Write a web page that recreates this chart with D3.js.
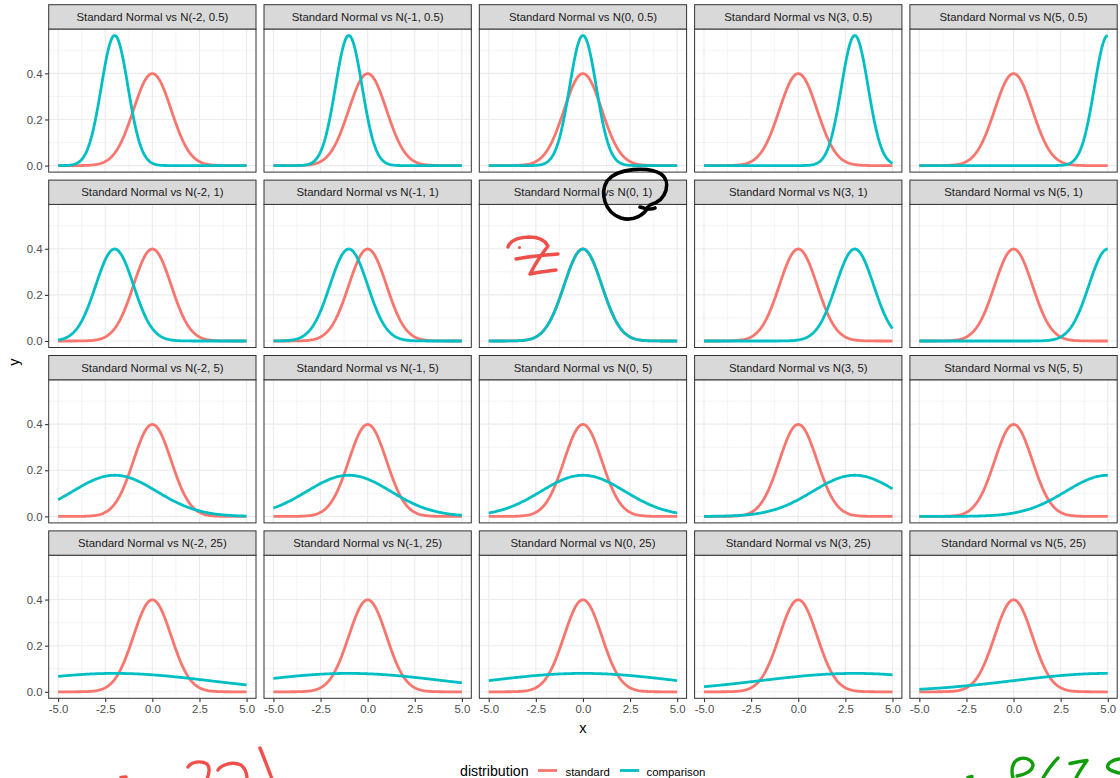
<!DOCTYPE html>
<html>
<head>
<meta charset="utf-8">
<script src="https://cdn.jsdelivr.net/npm/d3@7"></script>
<style>
  body { margin: 0; background: #fff; }
  svg { display: block; font-family: "Liberation Sans", Arial, sans-serif; }
</style>
</head>
<body>
<svg id="chart" width="1120" height="778"></svg>
<script>
// facet parameters
let means = [-2, -1, 0, 3, 5];
let variances = [0.5, 1, 5, 25];
let seriesNames = ["standard", "comparison"];
let seriesColors = ["#F8766D", "#00BFC4"];
let xTicks = [-5, -2.5, 0, 2.5, 5];
let xMinor = [-3.75, -1.25, 1.25, 3.75];
let yTicks = [0, 0.2, 0.4];
let yMinor = [0.1, 0.3, 0.5];
let xGrid = d3.range(-5, 5.0001, 0.05);

// curves are density plots: dnorm(x, mean, sqrt(var))
let dnorm = (x, m, v) => Math.exp(-((x - m) * (x - m)) / (2 * v)) / Math.sqrt(2 * Math.PI * v);
// R style labels, plain hyphen for the minus sign
let fmt = d => d.toFixed(1);

let svg = d3.select("#chart");

let plotLeft = 48.7, plotTop = 4.7, panelW = 207.3, gapX = 8, stripH = 24.3, panelH = 143.1, gapY = 8;
let yMax = d3.max(variances.map(v => dnorm(0, 0, v)));
let yPad = yMax * 0.05;

let line = d3.line();

variances.forEach((v, r) => {
    means.forEach((m, c) => {
        let px = plotLeft + c * (panelW + gapX);
        let sy = plotTop + r * (stripH + panelH + gapY);
        let py = sy + stripH;

        let x = d3.scaleLinear().domain([-5.5, 5.5]).range([px, px + panelW]);
        let y = d3.scaleLinear().domain([-yPad, yMax + yPad]).range([py + panelH, py]);

        let g = svg.append("g");

        // grid
        g.selectAll(".xminor").data(xMinor).join("line")
            .attr("x1", d => x(d)).attr("x2", d => x(d))
            .attr("y1", py).attr("y2", py + panelH)
            .attr("stroke", "#EBEBEB").attr("stroke-width", 0.55);
        g.selectAll(".yminor").data(yMinor).join("line")
            .attr("x1", px).attr("x2", px + panelW)
            .attr("y1", d => y(d)).attr("y2", d => y(d))
            .attr("stroke", "#EBEBEB").attr("stroke-width", 0.55);
        g.selectAll(".xmajor").data(xTicks).join("line")
            .attr("x1", d => x(d)).attr("x2", d => x(d))
            .attr("y1", py).attr("y2", py + panelH)
            .attr("stroke", "#EBEBEB").attr("stroke-width", 1.1);
        g.selectAll(".ymajor").data(yTicks).join("line")
            .attr("x1", px).attr("x2", px + panelW)
            .attr("y1", d => y(d)).attr("y2", d => y(d))
            .attr("stroke", "#EBEBEB").attr("stroke-width", 1.1);

        // curves: standard first, comparison on top
        let params = [[0, 1], [m, v]];
        params.forEach((p, i) => {
            g.append("path")
                .attr("d", line(xGrid.map(t => [x(t), y(dnorm(t, p[0], p[1]))])))
                .attr("fill", "none")
                .attr("stroke", seriesColors[i])
                .attr("stroke-width", 2.8)
                .attr("stroke-linejoin", "round");
        });

        // panel border
        g.append("rect")
            .attr("x", px).attr("y", py).attr("width", panelW).attr("height", panelH)
            .attr("fill", "none").attr("stroke", "#333333").attr("stroke-width", 1);

        // strip
        g.append("rect")
            .attr("x", px).attr("y", sy).attr("width", panelW).attr("height", stripH)
            .attr("fill", "#D9D9D9").attr("stroke", "#333333").attr("stroke-width", 1);
        g.append("text")
            .attr("x", px + panelW / 2).attr("y", sy + stripH / 2 + 4)
            .attr("text-anchor", "middle")
            .attr("fill", "#1A1A1A")
            .style("font-size", "11.4px")
            .text("Standard Normal vs N(" + m + ", " + v + ")");

        // y axis on first column
        if (c == 0) {
            let ax = svg.append("g").attr("transform", "translate(" + px + ",0)")
                .call(d3.axisLeft(y).tickValues(yTicks).tickFormat(fmt).tickSize(3.7).tickPadding(2.5));
            ax.select(".domain").remove();
            ax.selectAll(".tick line").attr("stroke", "#333333").attr("stroke-width", 1.1);
            ax.selectAll(".tick text").attr("fill", "#4D4D4D").style("font-size", "11.4px")
                .style("font-family", "Liberation Sans, Arial, sans-serif");
        }
        // x axis on last row
        if (r == variances.length - 1) {
            let ax = svg.append("g").attr("transform", "translate(0," + (py + panelH) + ")")
                .call(d3.axisBottom(x).tickValues(xTicks).tickFormat(fmt).tickSize(3.7).tickPadding(2.5));
            ax.select(".domain").remove();
            ax.selectAll(".tick line").attr("stroke", "#333333").attr("stroke-width", 1.1);
            ax.selectAll(".tick text").attr("fill", "#4D4D4D").style("font-size", "11.4px")
                .style("font-family", "Liberation Sans, Arial, sans-serif");
        }
    });
});

let plotRight = plotLeft + means.length * panelW + (means.length - 1) * gapX;

// axis titles
svg.append("text")
    .attr("x", (plotLeft + plotRight) / 2).attr("y", 733)
    .attr("text-anchor", "middle").attr("fill", "#000")
    .style("font-size", "14.5px").text("x");
svg.append("text")
    .attr("transform", "translate(19,362) rotate(-90)")
    .attr("text-anchor", "middle").attr("fill", "#000")
    .style("font-size", "14.5px").text("y");

// legend
let legend = svg.append("g");
legend.append("text")
    .attr("x", 460).attr("y", 776)
    .attr("fill", "#000").style("font-size", "14.2px").text("distribution");
let keyX = [538, 620];
let labX = [565.5, 646.5];
seriesNames.forEach((s, i) => {
    legend.append("line")
        .attr("x1", keyX[i]).attr("x2", keyX[i] + 19)
        .attr("y1", 770.5).attr("y2", 770.5)
        .attr("stroke", seriesColors[i]).attr("stroke-width", 2.8);
    legend.append("text")
        .attr("x", labX[i]).attr("y", 775.5)
        .attr("fill", "#000").style("font-size", "11.4px").text(s);
});

// hand-drawn marks on top of the figure
let marks = svg.append("g")
    .attr("fill", "none")
    .attr("stroke-linecap", "round")
    .attr("stroke-linejoin", "round");

// black loop around "(0, 1)"
marks.append("path")
    .attr("stroke", "#000").attr("stroke-width", 3.6)
    .attr("d", "M 650 205 C 668 200, 671 181, 661 174 C 648 166, 617 168, 607 181 C 600 193, 604 212, 621 218 C 634 222, 645 214, 648 207 M 640 207 C 646 209, 651 210, 655 208");

// red z
marks.append("path")
    .attr("stroke", "#F0504A").attr("stroke-width", 3.4)
    .attr("d", "M 508 247 C 510 241, 518 237.5, 529 237 C 538 237, 545 240, 548 246 C 541 255, 535 264, 530 274 C 538 272, 548 271, 556 270 M 516 259 C 530 256, 545 255, 558 254");
marks.append("circle").attr("cx", 519.5).attr("cy", 247.5).attr("r", 1.5).attr("fill", "#F0504A");

// red marks bottom left
marks.append("path")
    .attr("stroke", "#F0504A").attr("stroke-width", 3.4)
    .attr("d", "M 188 767 C 191 762, 201 760, 207 764 C 211 768, 209 774, 207 779 M 218 770 C 221 765, 232 761, 241 765 C 246 769, 247 774, 247 779 M 260 748 C 264 758, 268 768, 272 779 M 121 777.5 L 126 777");

// green marks bottom right
marks.append("path")
    .attr("stroke", "#129E0B").attr("stroke-width", 3.4)
    .attr("d", "M 1013 778 C 1011 771, 1012 763, 1017 760 C 1023 756, 1032 759, 1033 765 C 1033 771, 1024 775, 1017 776 M 1058 758 C 1052 764, 1047 771, 1043 778 M 1070 763.5 C 1076 762, 1082 761, 1087 760.5 C 1083 766, 1079 772, 1076 778 M 1119 759 C 1112 760, 1106 764, 1108 768 C 1110 771, 1115 772, 1119 773 M 968 777.5 L 972 776.5");
</script>
</body>
</html>
